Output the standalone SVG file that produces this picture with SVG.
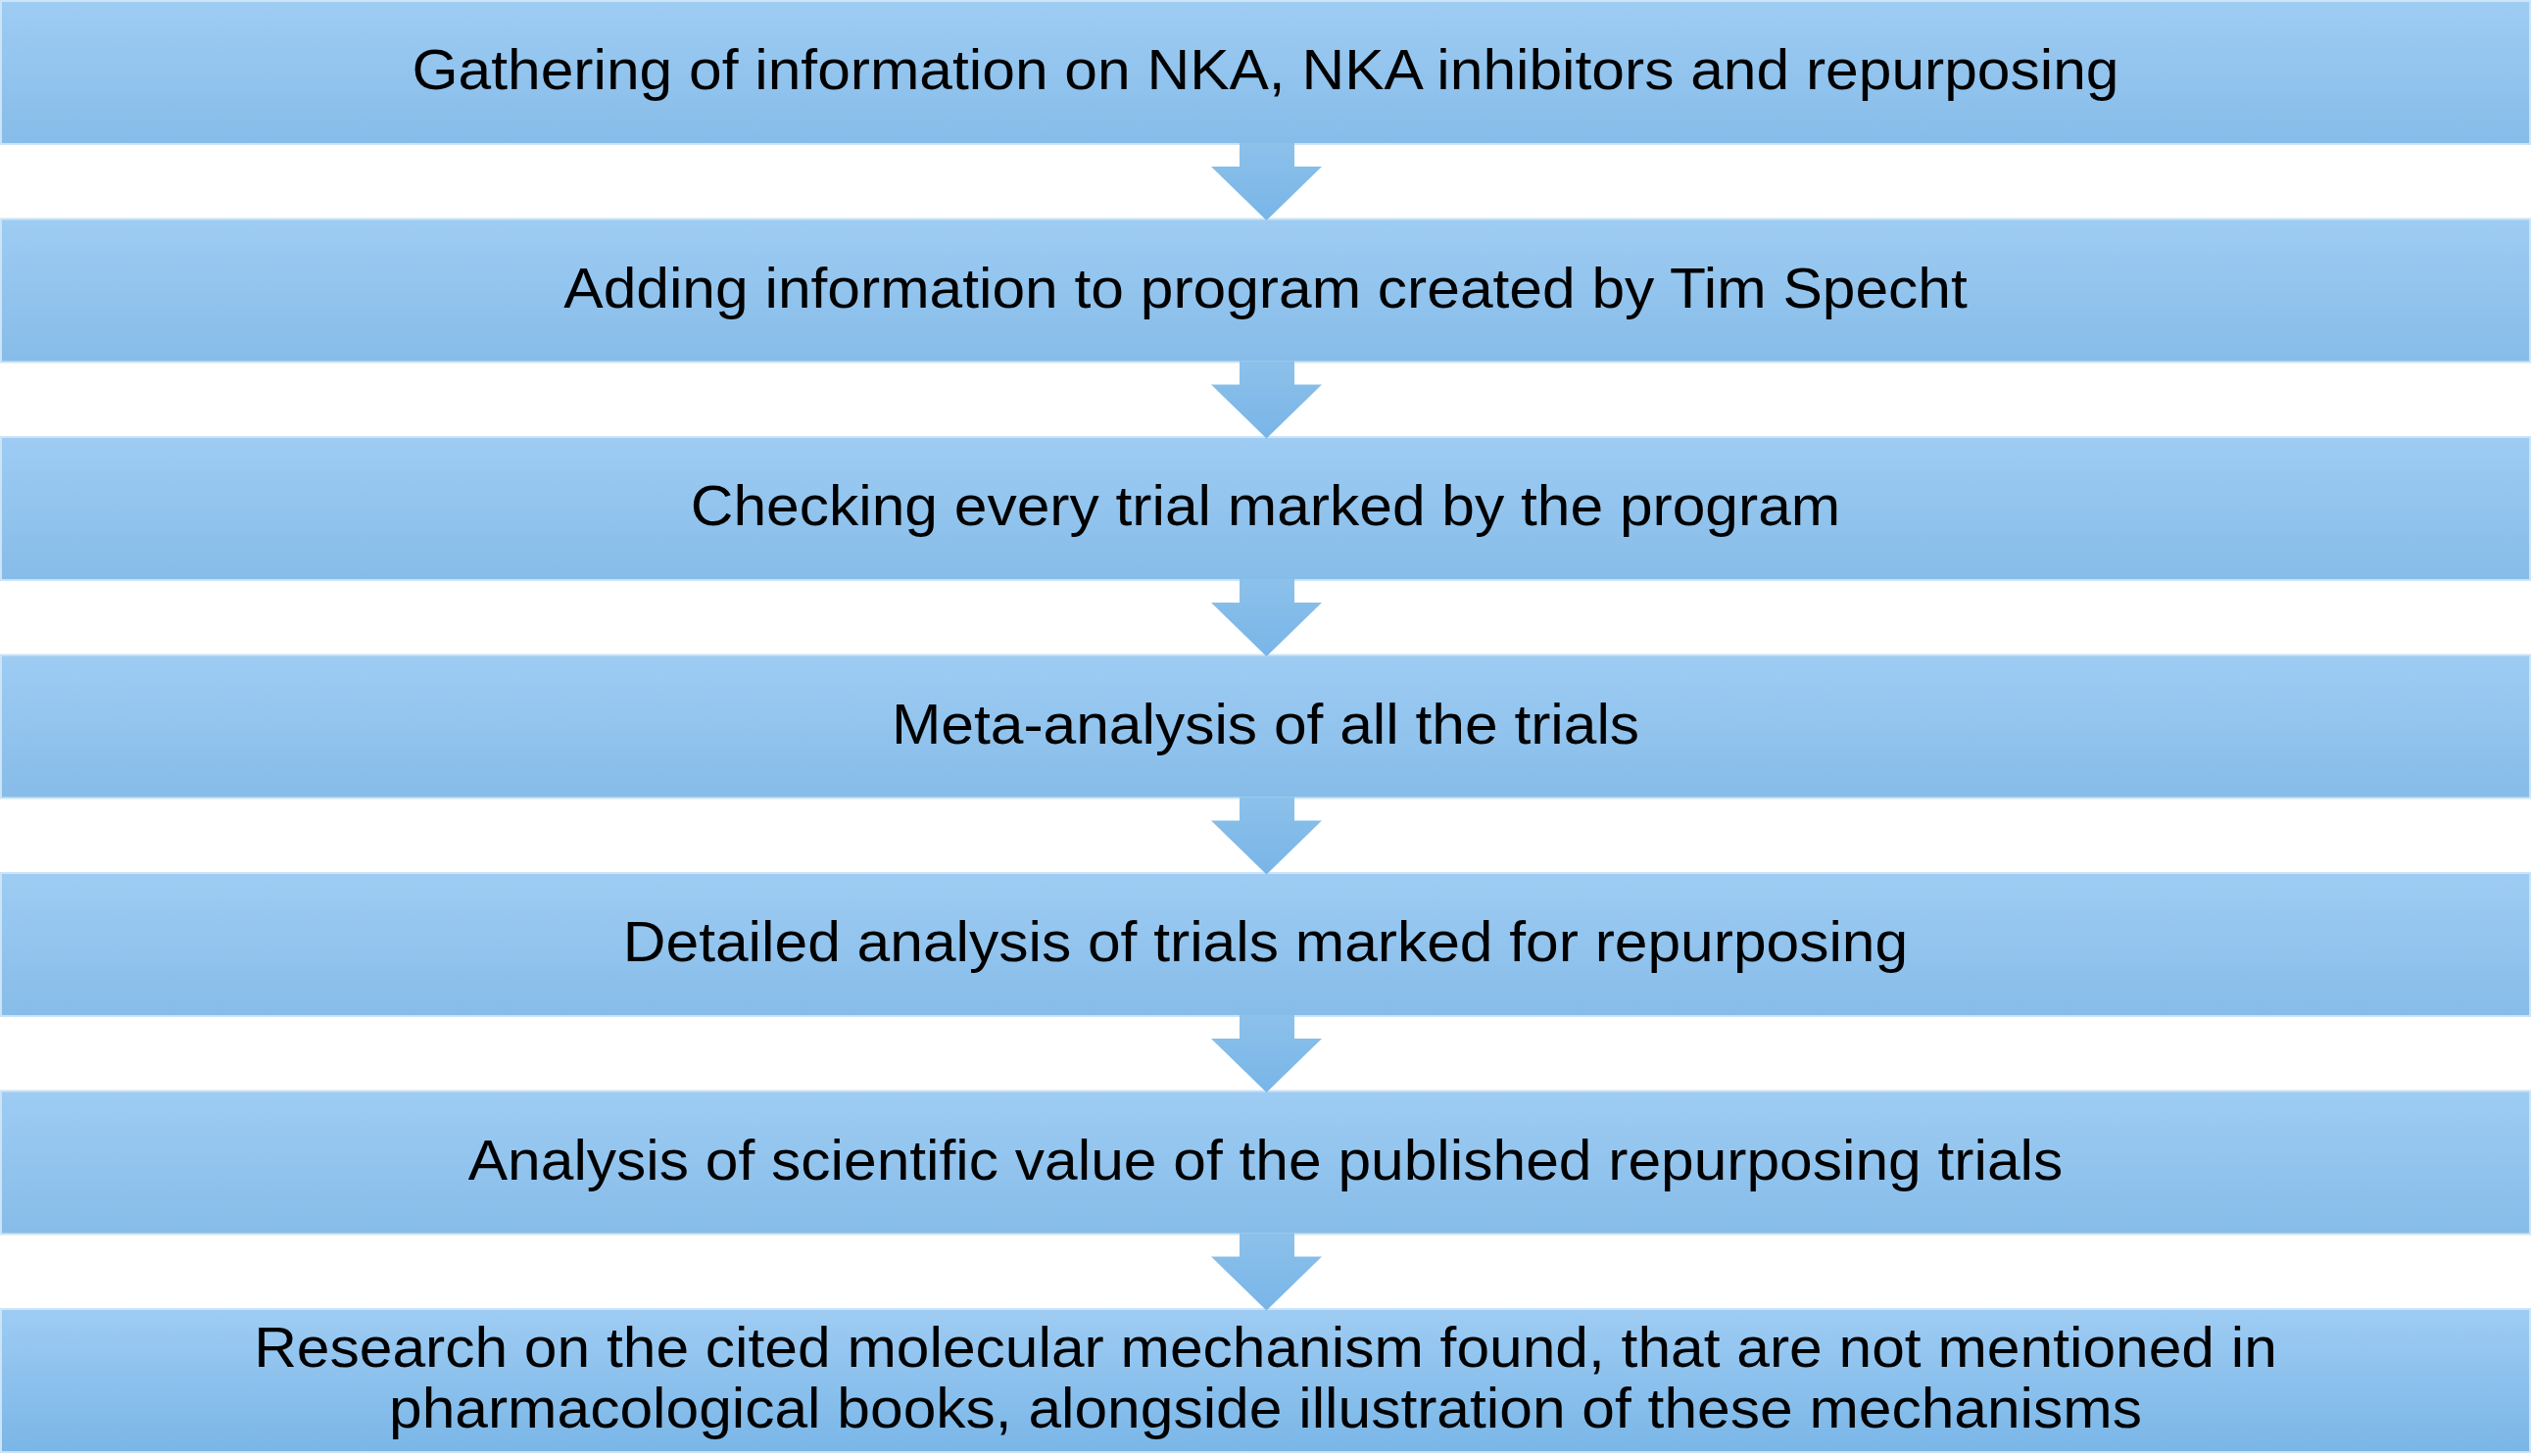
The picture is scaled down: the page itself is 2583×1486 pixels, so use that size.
<svg xmlns="http://www.w3.org/2000/svg" width="2583" height="1486" viewBox="0 0 2583 1486">
<defs>
<linearGradient id="boxGrad" x1="0" y1="0" x2="0" y2="1">
<stop offset="0" stop-color="#9ECCF3"/>
<stop offset="1" stop-color="#86BCE8"/>
</linearGradient>
<linearGradient id="lastGrad" x1="0" y1="0" x2="0" y2="1">
<stop offset="0" stop-color="#9ECCF3"/>
<stop offset="1" stop-color="#7AB6E7"/>
</linearGradient>
<linearGradient id="arrowGrad" x1="0" y1="0" x2="0" y2="1">
<stop offset="0" stop-color="#8CC1EA"/>
<stop offset="1" stop-color="#78B5E8"/>
</linearGradient>
<path id="arrowShape" d="M1265,-1 L1321,-1 L1321,23 L1349,23 L1292.5,78 L1236,23 L1265,23 Z"/>
</defs>
<style>
.box{fill:url(#boxGrad);stroke:#CDE3F6;stroke-width:2}
.last{fill:url(#lastGrad)}
.arrow{fill:url(#arrowGrad)}
.lbl{font-family:"Liberation Sans",Arial,sans-serif;font-size:60.5px;fill:#000;text-anchor:middle}
</style>
<rect width="2583" height="1486" fill="#fff"/>
<g id="node1"><rect class="box" x="1" y="1" width="2581" height="146"/><text class="lbl" transform="translate(1291.5 91) scale(1 0.96)">Gathering of information on NKA, NKA inhibitors and repurposing</text></g>
<g id="node2"><rect class="box" x="1" y="223.5" width="2581" height="146"/><text class="lbl" transform="translate(1291.5 313.5) scale(1 0.96)">Adding information to program created by Tim Specht</text></g>
<g id="node3"><rect class="box" x="1" y="446" width="2581" height="146"/><text class="lbl" transform="translate(1291.5 536) scale(1 0.96)">Checking every trial marked by the program</text></g>
<g id="node4"><rect class="box" x="1" y="668.5" width="2581" height="146"/><text class="lbl" transform="translate(1291.5 758.5) scale(1 0.96)">Meta-analysis of all the trials</text></g>
<g id="node5"><rect class="box" x="1" y="891" width="2581" height="146"/><text class="lbl" transform="translate(1291.5 981) scale(1 0.96)">Detailed analysis of trials marked for repurposing</text></g>
<g id="node6"><rect class="box" x="1" y="1113.5" width="2581" height="146"/><text class="lbl" transform="translate(1291.5 1203.5) scale(1 0.96)">Analysis of scientific value of the published repurposing trials</text></g>
<g id="node7"><rect class="box last" x="1" y="1336" width="2581" height="146"/><text class="lbl" transform="translate(1291.5 1395) scale(1 0.96)">Research on the cited molecular mechanism found, that are not mentioned in</text><text class="lbl" transform="translate(1291.5 1457) scale(1 0.96)">pharmacological books, alongside illustration of these mechanisms</text></g>
<g id="connectors">
<use href="#arrowShape" class="arrow" transform="translate(0 147)"/>
<use href="#arrowShape" class="arrow" transform="translate(0 369.5)"/>
<use href="#arrowShape" class="arrow" transform="translate(0 592)"/>
<use href="#arrowShape" class="arrow" transform="translate(0 814.5)"/>
<use href="#arrowShape" class="arrow" transform="translate(0 1037)"/>
<use href="#arrowShape" class="arrow" transform="translate(0 1259.5)"/>
</g>
</svg>
